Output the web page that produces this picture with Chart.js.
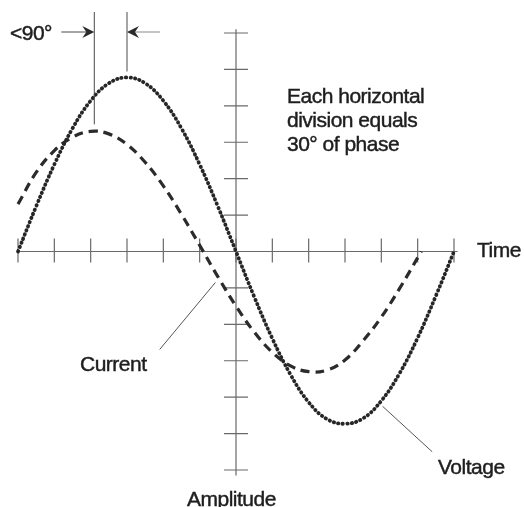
<!DOCTYPE html>
<html>
<head>
<meta charset="utf-8">
<script src="https://cdn.jsdelivr.net/npm/chart.js@4/dist/chart.umd.min.js"></script>
<style>
  html, body { margin: 0; padding: 0; background: #fff; }
  #wrap { position: relative; width: 524px; height: 507px; }
  .lbl {
    position: absolute;
    font-family: "Liberation Sans", Arial, sans-serif;
    font-size: 21px;
    line-height: 24px;
    color: #1e1e1e;
    letter-spacing: -0.5px;
    -webkit-text-stroke: 0.45px #1e1e1e;
    white-space: nowrap;
  }
</style>
</head>
<body>
<div id="wrap">
  <canvas id="phaseChart" width="524" height="507"></canvas>
  <div class="lbl" style="left:10px; top:21px;">&lt;90°</div>
  <div class="lbl" style="left:287px; top:84px;">Each horizontal<br>division equals<br>30° of phase</div>
  <div class="lbl" style="left:477px; top:238px;">Time</div>
  <div class="lbl" style="left:80px; top:352px;">Current</div>
  <div class="lbl" style="left:438px; top:455px;">Voltage</div>
  <div class="lbl" style="left:187px; top:487px;">Amplitude</div>
</div>
<script>
// phase angle in degrees, amplitude in divisions
const voltageAngles = [0, 15, 30, 45, 60, 75, 90, 105, 120, 135, 150, 165, 180,
                       195, 210, 225, 240, 255, 270, 285, 300, 315, 330, 345, 360];
const voltageValues = [0, 1.24, 2.39, 3.38, 4.14, 4.62, 4.78, 4.62, 4.14, 3.38, 2.39, 1.24, 0,
                       -1.24, -2.39, -3.38, -4.14, -4.60, -4.73, -4.58, -4.10, -3.35, -2.37, -1.22, 0];

const currentAngles = [0, 15, 30, 45, 60, 75, 90, 105, 120, 135, 150, 165, 180,
                       195, 210, 225, 240, 255, 270, 285, 300, 315, 333];
const currentValues = [1.30, 2.17, 2.77, 3.14, 3.30, 3.23, 2.94, 2.45, 1.80, 1.02, 0.17, -0.69, -1.50,
                       -2.21, -2.77, -3.14, -3.30, -3.26, -2.98, -2.45, -1.80, -1.02, 0];

const timeTicks = [0, 30, 60, 90, 120, 150, 180, 210, 240, 270, 300, 330, 360];
const amplitudeTicks = [-6, -5, -4, -3, -2, -1, 1, 2, 3, 4, 5, 6];

const toPoints = (xs, ys) => xs.map((x, i) => ({ x: x, y: ys[i] }));

function arrowHead(ctx, x, y, dir) {
  // barbed arrow head, tip at (x, y), dir = 1 points right, -1 points left
  ctx.beginPath();
  ctx.moveTo(x, y);
  ctx.lineTo(x - dir * 12, y - 6);
  ctx.lineTo(x - dir * 8, y);
  ctx.lineTo(x - dir * 12, y + 6);
  ctx.closePath();
  ctx.fill();
}

const crossAxes = {
  id: 'crossAxes',
  beforeDatasetsDraw(chart) {
    const { ctx, scales: { x, y } } = chart;
    const x0 = x.getPixelForValue(180);
    const y0 = y.getPixelForValue(0);
    ctx.save();
    ctx.strokeStyle = '#6a6a6a';
    ctx.lineWidth = 1.2;

    // time axis with ticks every 30 degrees
    ctx.beginPath();
    ctx.moveTo(x.getPixelForValue(0), y0);
    ctx.lineTo(x.getPixelForValue(363), y0);
    timeTicks.forEach(t => {
      const px = x.getPixelForValue(t);
      ctx.moveTo(px, y0 - 13);
      ctx.lineTo(px, y0 + 11);
    });
    ctx.stroke();

    // amplitude axis through 180 degrees
    ctx.beginPath();
    ctx.moveTo(x0, y.getPixelForValue(6.1));
    ctx.lineTo(x0, y.getPixelForValue(-6.15));
    amplitudeTicks.forEach(t => {
      const py = y.getPixelForValue(t);
      ctx.moveTo(x0 - 12, py);
      ctx.lineTo(x0 + 12, py);
    });
    ctx.stroke();
    ctx.restore();
  },
  afterDatasetsDraw(chart) {
    const { ctx, scales: { x, y } } = chart;
    ctx.save();
    ctx.strokeStyle = '#4a4a4a';
    ctx.fillStyle = '#2a2a2a';
    ctx.lineWidth = 1;

    // phase markers at the current and voltage peaks
    const iPeak = x.getPixelForValue(63);
    const vPeak = x.getPixelForValue(90);
    ctx.beginPath();
    ctx.moveTo(iPeak, 12);
    ctx.lineTo(iPeak, y.getPixelForValue(3.3) - 7);
    ctx.moveTo(vPeak, 12);
    ctx.lineTo(vPeak, y.getPixelForValue(4.78) - 6);
    ctx.stroke();

    // arrows pointing in at the markers
    const ay = 32;
    ctx.beginPath();
    ctx.moveTo(iPeak - 33, ay);
    ctx.lineTo(iPeak - 8, ay);
    ctx.stroke();
    arrowHead(ctx, iPeak, ay, 1);
    ctx.strokeStyle = '#8a8a8a';
    ctx.beginPath();
    ctx.moveTo(vPeak + 8, ay);
    ctx.lineTo(vPeak + 33, ay);
    ctx.stroke();
    arrowHead(ctx, vPeak, ay, -1);

    // leader lines to the curve labels
    ctx.strokeStyle = '#555';
    ctx.beginPath();
    ctx.moveTo(x.getPixelForValue(117), y.getPixelForValue(-2.69));
    ctx.lineTo(x.getPixelForValue(163), y.getPixelForValue(-0.85));
    ctx.moveTo(x.getPixelForValue(301), y.getPixelForValue(-4.25));
    ctx.lineTo(x.getPixelForValue(342), y.getPixelForValue(-5.5));
    ctx.stroke();
    ctx.restore();
  }
};

new Chart(document.getElementById('phaseChart'), {
  type: 'line',
  data: {
    datasets: [{
      label: 'Voltage',
      data: toPoints(voltageAngles, voltageValues),
      borderColor: '#262626',
      borderWidth: 3.8,
      borderDash: [0.4, 4.1],
      borderCapStyle: 'round',
      pointRadius: 0,
      tension: 0.4,
      fill: false,
      clip: false
    }, {
      label: 'Current',
      data: toPoints(currentAngles, currentValues),
      borderColor: '#2b2b2b',
      borderWidth: 3.2,
      borderDash: [9, 6],
      pointRadius: 0,
      tension: 0.4,
      fill: false,
      clip: false
    }]
  },
  options: {
    responsive: false,
    animation: false,
    layout: { padding: { left: 18, right: 70, top: 33, bottom: 37 } },
    plugins: { legend: { display: false }, tooltip: { enabled: false } },
    scales: {
      x: { type: 'linear', min: 0, max: 360, display: false },
      y: { type: 'linear', min: -6, max: 6, display: false }
    }
  },
  plugins: [crossAxes]
});
</script>
</body>
</html>
